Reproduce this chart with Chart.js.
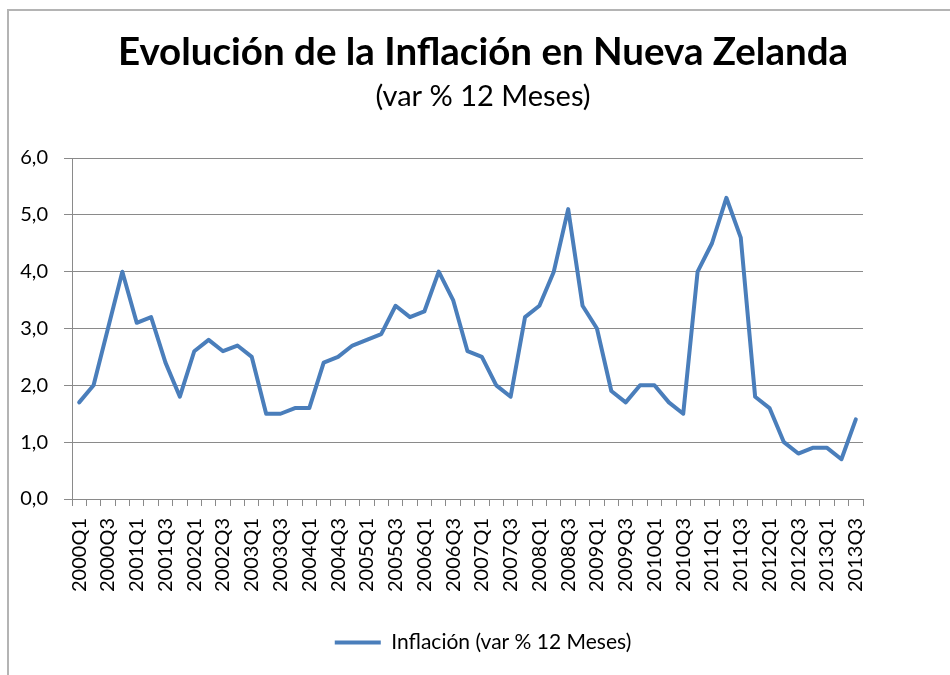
<!DOCTYPE html>
<html>
<head>
<meta charset="utf-8">
<script src="https://cdn.jsdelivr.net/npm/chart.js@4/dist/chart.umd.min.js"></script>
<style>
  body { margin: 0; background: #fff; overflow: hidden; }
  #wrap { position: relative; width: 950px; height: 675px; }
  #frame { position: absolute; left: 7px; top: 9px; width: 1000px; height: 1000px;
           border-left: 2px solid #b4b4b4; border-top: 2px solid #b4b4b4; pointer-events: none; }
</style>
</head>
<body>
<div id="wrap">
  <canvas id="chart" width="950" height="675"></canvas>
  <div id="frame"></div>
</div>
<script>
// quarters shown on the x axis
const quarters = [
  '2000Q1','2000Q2','2000Q3','2000Q4','2001Q1','2001Q2','2001Q3','2001Q4',
  '2002Q1','2002Q2','2002Q3','2002Q4','2003Q1','2003Q2','2003Q3','2003Q4',
  '2004Q1','2004Q2','2004Q3','2004Q4','2005Q1','2005Q2','2005Q3','2005Q4',
  '2006Q1','2006Q2','2006Q3','2006Q4','2007Q1','2007Q2','2007Q3','2007Q4',
  '2008Q1','2008Q2','2008Q3','2008Q4','2009Q1','2009Q2','2009Q3','2009Q4',
  '2010Q1','2010Q2','2010Q3','2010Q4','2011Q1','2011Q2','2011Q3','2011Q4',
  '2012Q1','2012Q2','2012Q3','2012Q4','2013Q1','2013Q2','2013Q3'
];

// inflation, var % 12 meses
const inflacion = [
  1.7, 2.0, 3.0, 4.0, 3.1, 3.2, 2.4, 1.8,
  2.6, 2.8, 2.6, 2.7, 2.5, 1.5, 1.5, 1.6,
  1.6, 2.4, 2.5, 2.7, 2.8, 2.9, 3.4, 3.2,
  3.3, 4.0, 3.5, 2.6, 2.5, 2.0, 1.8, 3.2,
  3.4, 4.0, 5.1, 3.4, 3.0, 1.9, 1.7, 2.0,
  2.0, 1.7, 1.5, 4.0, 4.5, 5.3, 4.6, 1.8,
  1.6, 1.0, 0.8, 0.9, 0.9, 0.7, 1.4
];

const yMin = 0;
const yMax = 6;
const yStep = 1;

const FONT = 'Lato, "Open Sans", sans-serif';
const GRID = '#8a8a8a';

new Chart(document.getElementById('chart'), {
  type: 'line',
  data: {
    labels: quarters,
    datasets: [{
      label: 'Inflación (var % 12 Meses)',
      data: inflacion,
      borderColor: '#4a7ebb',
      backgroundColor: '#4a7ebb',
      borderWidth: 4,
      pointRadius: 0,
      tension: 0,
      borderJoinStyle: 'round',
      borderCapStyle: 'round',
      pointStyle: 'line'
    }]
  },
  options: {
    responsive: false,
    animation: false,
    layout: { padding: { left: 16, right: 0, top: 0, bottom: 12 } },
    plugins: {
      title: {
        display: true,
        text: 'Evolución de la Inflación en Nueva Zelanda',
        color: '#000',
        font: { family: FONT, size: 38.5, weight: 'bold' },
        padding: { top: 29, bottom: 0 }
      },
      subtitle: {
        display: true,
        text: '(var % 12 Meses)',
        color: '#000',
        font: { family: FONT, size: 29 },
        padding: { top: 4, bottom: 44 }
      },
      legend: {
        position: 'bottom',
        labels: {
          usePointStyle: true,
          pointStyleWidth: 46,
          color: '#000',
          font: { family: FONT, size: 21 },
          padding: 10
        }
      },
      tooltip: { enabled: false }
    },
    scales: {
      x: {
        offset: true,
        grid: {
          offset: true,
          drawOnChartArea: false,
          drawTicks: true,
          tickLength: 7,
          color: GRID
        },
        border: { color: GRID, width: 1 },
        ticks: {
          autoSkip: false,
          minRotation: 90,
          maxRotation: 90,
          padding: 12,
          color: '#000',
          font: { family: FONT, size: 20 },
          callback: function (value, index) {
            return index % 2 === 0 ? quarters[index] : '';
          }
        },
        afterFit: function (scale) { scale.height = 123; }
      },
      y: {
        min: yMin,
        max: yMax,
        grid: { color: GRID, tickLength: 8 },
        border: { color: GRID, width: 1 },
        ticks: {
          stepSize: yStep,
          padding: 16,
          color: '#000',
          font: { family: FONT, size: 20 },
          callback: function (value) { return value.toFixed(1).replace('.', ','); }
        },
        afterFit: function (scale) { scale.width = 56; }
      },
      // empty right-hand axis that only reserves the margin right of the plot
      yRight: {
        position: 'right',
        display: true,
        grid: { display: false },
        border: { display: false },
        ticks: { display: false },
        afterFit: function (scale) { scale.width = 87; }
      }
    }
  }
});
</script>
</body>
</html>
